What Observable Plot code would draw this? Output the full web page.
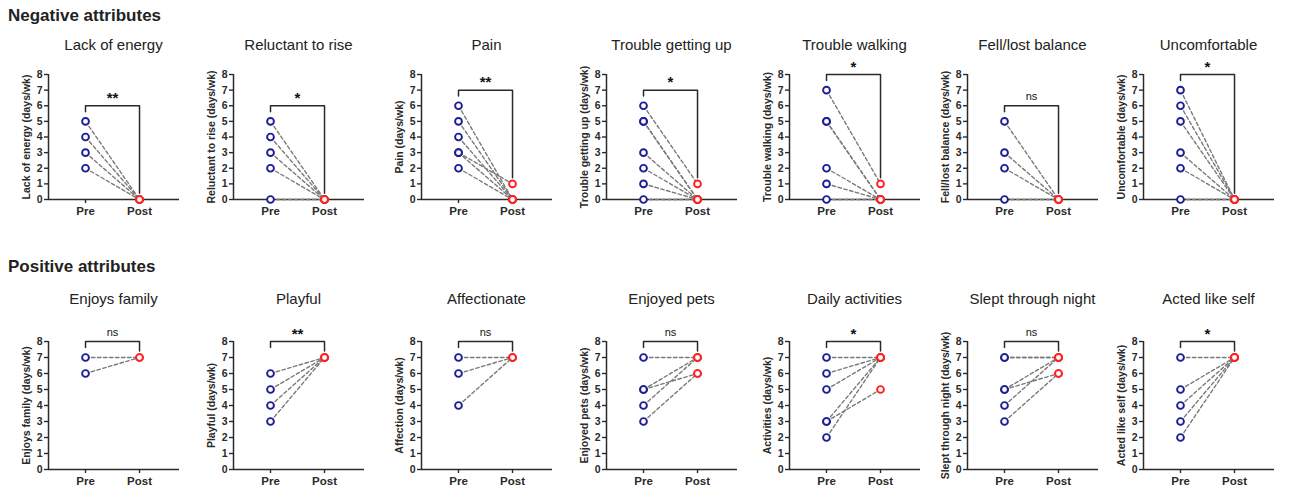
<!DOCTYPE html>
<html>
<head>
<meta charset="utf-8">
<script src="https://cdn.jsdelivr.net/npm/d3@7"></script>
<script src="https://cdn.jsdelivr.net/npm/@observablehq/plot@0.6"></script>
<style>
  html, body { margin: 0; padding: 0; background: #fff; }
  #root { position: relative; width: 1295px; height: 488px; overflow: hidden; font-family: "Liberation Sans", Arial, sans-serif; color: #222; }
  .section { position: absolute; left: 8px; font-size: 17px; font-weight: bold; line-height: 20px; }
  .ptitle { position: absolute; font-size: 15px; line-height: 18px; text-align: center; width: 200px; }
  .panel { position: absolute; }
</style>
</head>
<body>
<div id="root"></div>
<script>
// ---------- data ----------
const xLabels = ["Pre", "Post"];
const sections = ["Negative attributes", "Positive attributes"];

const negTitles = ["Lack of energy", "Reluctant to rise", "Pain", "Trouble getting up", "Trouble walking", "Fell/lost balance", "Uncomfortable"];
const negYLabels = ["Lack of energy (days/wk)", "Reluctant to rise (days/wk)", "Pain (days/wk)", "Trouble getting up (days/wk)", "Trouble walking (days/wk)", "Fell/lost balance (days/wk)", "Uncomfortable (days/wk)"];
const negSig = ["**", "*", "**", "*", "*", "ns", "*"];
const negBracket = [6, 6, 7, 7, 8, 6, 8];
const negPre = [[5, 4, 3, 2], [5, 4, 3, 2, 0], [6, 5, 4, 3, 3, 2], [6, 5, 5, 3, 2, 1, 0], [7, 5, 5, 2, 1, 0], [5, 3, 2, 0], [7, 6, 5, 3, 2, 0]];
const negPost = [[0, 0, 0, 0], [0, 0, 0, 0, 0], [0, 0, 0, 0, 1, 0], [1, 0, 0, 0, 0, 0, 0], [1, 0, 0, 0, 0, 0], [0, 0, 0, 0], [0, 0, 0, 0, 0, 0]];

const posTitles = ["Enjoys family", "Playful", "Affectionate", "Enjoyed pets", "Daily activities", "Slept through night", "Acted like self"];
const posYLabels = ["Enjoys family (days/wk)", "Playful (days/wk)", "Affection (days/wk)", "Enjoyed pets (days/wk)", "Activities (days/wk)", "Slept through night (days/wk)", "Acted like self (days/wk)"];
const posSig = ["ns", "**", "ns", "ns", "*", "ns", "*"];
const posBracket = [8, 8, 8, 8, 8, 8, 8];
const posPre = [[7, 6], [6, 5, 4, 3], [7, 6, 4], [7, 5, 5, 4, 3], [7, 6, 5, 3, 3, 2], [7, 7, 5, 5, 4, 3], [7, 5, 4, 3, 2]];
const posPost = [[7, 7], [7, 7, 7, 7], [7, 7, 7], [7, 7, 6, 7, 6], [7, 7, 7, 7, 5, 7], [7, 7, 7, 6, 7, 6], [7, 7, 7, 7, 7]];

const yTicks = [0, 1, 2, 3, 4, 5, 6, 7, 8];

// ---------- layout ----------
const axisLeft = [48, 233, 421, 606, 789, 967, 1143];
const rows = [
  {titles: negTitles, ylabels: negYLabels, sig: negSig, bracket: negBracket, pre: negPre, post: negPost,
   sectionTop: 6, titleTop: 36, yTop: 74, plotH: 125},
  {titles: posTitles, ylabels: posYLabels, sig: posSig, bracket: posBracket, pre: posPre, post: posPost,
   sectionTop: 257, titleTop: 290, yTop: 341, plotH: 128}
];
const M = {top: 36, bottom: 26, left: 48, right: 8};
const plotW = 131;
const xDomain = [-0.685, 1.74];
const blue = "#1d1d96", red = "#ff2121", ink = "#2a2a2a";

const root = document.getElementById("root");

rows.forEach((row, r) => {
  const sec = document.createElement("div");
  sec.className = "section";
  sec.style.top = row.sectionTop + "px";
  sec.textContent = sections[r];
  root.appendChild(sec);

  row.titles.forEach((title, i) => {
    const pre = row.pre[i], post = row.post[i];
    const long = [];
    pre.forEach((v, k) => {
      long.push({id: k, phase: xLabels[0], value: v});
      long.push({id: k, phase: xLabels[1], value: post[k]});
    });
    const xi = d => xLabels.indexOf(d.phase);
    const b = row.bracket[i];
    const postMax = d3.max(post);
    const bracket = [
      {phase: xLabels[0], value: b - 0.38},
      {phase: xLabels[0], value: b},
      {phase: xLabels[1], value: b},
      {phase: xLabels[1], value: Math.min(b - 0.38, postMax + 0.4)}
    ];
    const sig = row.sig[i];
    const isStar = sig !== "ns";

    const chart = Plot.plot({
      width: M.left + plotW + M.right,
      height: M.top + row.plotH + M.bottom,
      marginTop: M.top, marginBottom: M.bottom, marginLeft: M.left, marginRight: M.right,
      style: {background: "transparent", fontFamily: "'Liberation Sans', Arial, sans-serif", fontSize: "10px", fontWeight: "bold", color: ink, overflow: "visible"},
      x: {domain: xDomain},
      y: {domain: [0, 8]},
      color: {domain: xLabels, range: [blue, red]},
      marks: [
        Plot.axisY({ticks: yTicks, tickSize: 4, tickPadding: 2, label: row.ylabels[i], labelAnchor: "center", labelArrow: "none", labelOffset: 26, fontSize: 10.5, fontWeight: "bold", strokeWidth: 1.4}),
        Plot.axisX({ticks: xLabels.map((_, k) => k), tickFormat: k => xLabels[k], tickSize: 4, tickPadding: 3, label: null, fontSize: 11.5, fontWeight: "bold", strokeWidth: 1.4}),
        Plot.ruleX([xDomain[0]], {y1: 0, y2: 8, stroke: ink, strokeWidth: 1.5}),
        Plot.ruleY([0], {stroke: ink, strokeWidth: 1.5}),
        Plot.line(long, {x: xi, y: "value", z: "id", stroke: "#7a7a7a", strokeWidth: 1.4, strokeDasharray: "3.5,2.5"}),
        Plot.line(bracket, {x: xi, y: "value", stroke: ink, strokeWidth: 1.5}),
        Plot.text([sig], {x: 0.5, y: b, text: d => d, dy: isStar ? -3 : -9, lineAnchor: isStar ? "bottom" : "middle",
          fontSize: isStar ? 15 : 11, fontWeight: isStar ? "bold" : "normal", fill: "#111"}),
        Plot.dot(long, {x: xi, y: "value", stroke: "phase", fill: "white", r: 3.4, strokeWidth: 1.9})
      ]
    });
    chart.classList.add("panel");
    chart.style.left = (axisLeft[i] - M.left) + "px";
    chart.style.top = (row.yTop - M.top) + "px";
    root.appendChild(chart);

    const t = document.createElement("div");
    t.className = "ptitle";
    t.style.left = (axisLeft[i] + plotW / 2 - 100) + "px";
    t.style.top = row.titleTop + "px";
    t.textContent = title;
    root.appendChild(t);
  });
});
</script>
</body>
</html>
